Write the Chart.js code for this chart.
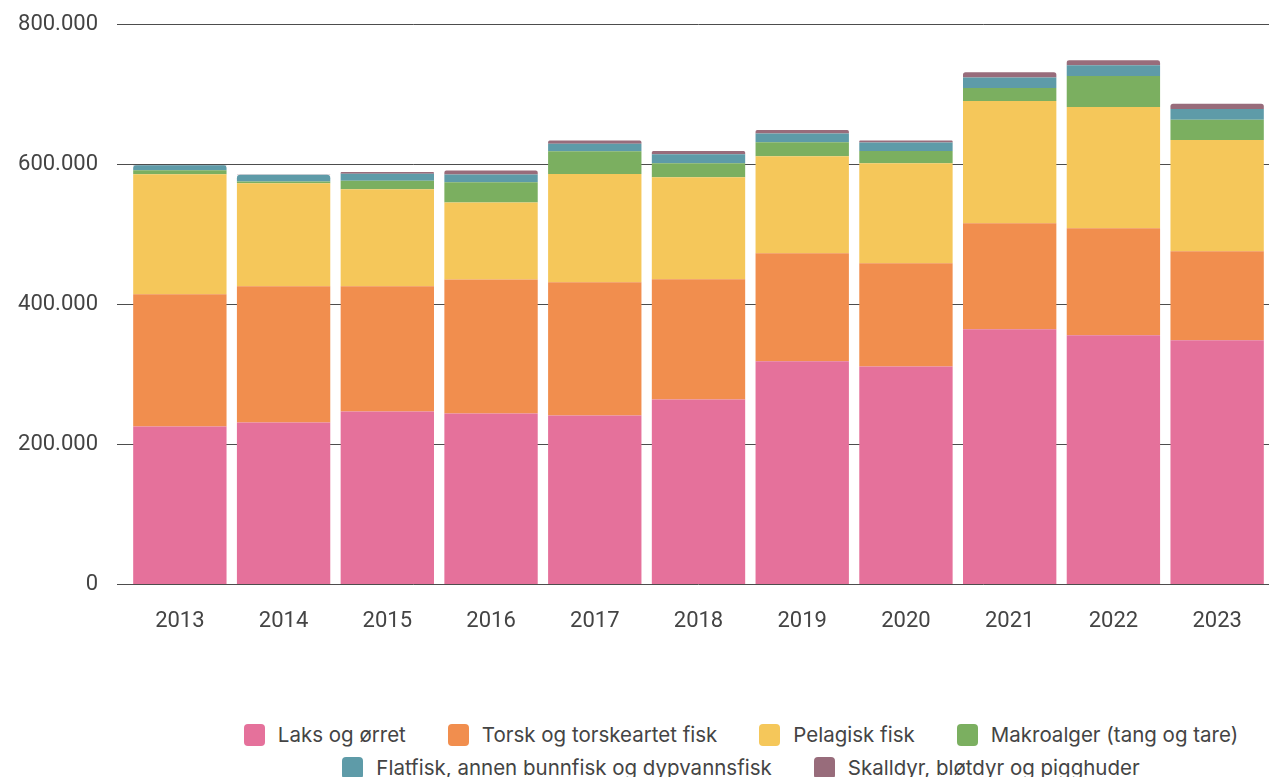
<!DOCTYPE html>
<html lang="no">
<head>
<meta charset="utf-8">
<title>Produksjon etter artsgruppe 2013–2023</title>
<script src="https://cdn.jsdelivr.net/npm/chart.js@4/dist/chart.umd.min.js"></script>
<style>
  html, body { margin: 0; padding: 0; background: #fff; }
  body { width: 1269px; height: 777px; position: relative; overflow: hidden; font-family: Inter, "Noto Sans", sans-serif; }
  #wrap { position: absolute; left: 0; top: 0; width: 1269px; height: 665px; }
  #legend {
    position: absolute; left: 213px; top: 724px; width: 1056px;
    display: flex; flex-wrap: wrap; justify-content: center;
    column-gap: 42px; row-gap: 11px;
    font-size: 20.5px; color: #444; line-height: 22px;
  }
  .item { display: inline-flex; align-items: center; height: 22px; white-space: nowrap; }
  .swatch { width: 21px; height: 22px; border-radius: 4px; margin-right: 13px; flex: none; }
</style>
</head>
<body>
<div id="wrap"><canvas id="chart" width="1269" height="665"></canvas></div>
<div id="legend"></div>
<script>
// Years on the x axis
const years = ['2013', '2014', '2015', '2016', '2017', '2018', '2019', '2020', '2021', '2022', '2023'];

// Tonnes per species group
const laksOgOrret   = [225700, 231400, 247000, 244000, 241400, 264300, 318600, 311400, 364300, 355700, 348600];
const torsk         = [188600, 194300, 178600, 191400, 190000, 171400, 154300, 147200, 151400, 152900, 127100];
const pelagisk      = [171400, 147000, 138600, 110000, 154700, 145700, 138500, 142800, 174300, 172800, 158600];
const makroalger    = [  5700,   2500,  12000,  28600,  32400,  20000,  20000,  17200,  18600,  44300,  29000];
const flatfisk      = [  7000,   9500,  10000,  11400,  10500,  12900,  12500,  12400,  15200,  15300,  15300];
const skalldyr      = [   500,    400,   2500,   5700,   4800,   4300,   4700,   2800,   7200,   7100,   7500];

// Series names and colours
const seriesNames = [
  'Laks og ørret',
  'Torsk og torskeartet fisk',
  'Pelagisk fisk',
  'Makroalger (tang og tare)',
  'Flatfisk, annen bunnfisk og dypvannsfisk',
  'Skalldyr, bløtdyr og pigghuder'
];
const seriesColors = ['#E5719B', '#F18E4E', '#F5C75A', '#7BAF60', '#5E9BA8', '#986C7B'];
const seriesValues = [laksOgOrret, torsk, pelagisk, makroalger, flatfisk, skalldyr];

// Y axis ticks
const yTicks = [0, 200000, 400000, 600000, 800000];

function formatNo(v) {
  return String(v).replace(/\B(?=(\d{3})+(?!\d))/g, '.');
}

// Index of the visible top segment of each stack (gets the rounded corners)
function topIndex(col) {
  let top = 0;
  seriesValues.forEach((vals, i) => { if (vals[col] >= 1500) top = i; });
  return top;
}

const datasets = seriesValues.map((vals, i) => ({
  label: seriesNames[i],
  data: vals,
  backgroundColor: seriesColors[i],
  borderWidth: 0,
  borderSkipped: false,
  borderRadius: (ctx) => (ctx.dataIndex !== undefined && topIndex(ctx.dataIndex) === ctx.datasetIndex)
    ? { topLeft: 5, topRight: 5, bottomLeft: 0, bottomRight: 0 }
    : 0,
  categoryPercentage: 1.0,
  barPercentage: 0.9
}));

const tickFont = { family: 'Roboto, Inter, sans-serif', size: 22 };

new Chart(document.getElementById('chart'), {
  type: 'bar',
  data: { labels: years, datasets },
  options: {
    responsive: false,
    animation: false,
    layout: { padding: { left: 0, top: 0, right: 0, bottom: 6 } },
    plugins: {
      legend: { display: false },
      tooltip: { enabled: false }
    },
    scales: {
      x: {
        stacked: true,
        grid: { display: false, drawTicks: false },
        border: { display: false },
        ticks: { padding: 24, font: tickFont, color: '#444' }
      },
      y: {
        stacked: true,
        min: 0,
        max: 800000,
        afterBuildTicks: (axis) => { axis.ticks = yTicks.map(v => ({ value: v })); },
        afterFit: (axis) => { axis.width = 128; axis.paddingTop = 24; axis.paddingBottom = 0; },
        grid: { color: '#4d4d4d', lineWidth: 1, drawTicks: true, tickLength: 11 },
        border: { display: false },
        ticks: { padding: 19, font: tickFont, color: '#444', callback: (v) => formatNo(v) }
      }
    }
  }
});

// Legend built from the same series names and colours
const legend = document.getElementById('legend');
seriesNames.forEach((name, i) => {
  const item = document.createElement('span');
  item.className = 'item';
  const sw = document.createElement('span');
  sw.className = 'swatch';
  sw.style.background = seriesColors[i];
  item.appendChild(sw);
  item.appendChild(document.createTextNode(name));
  legend.appendChild(item);
});
</script>
</body>
</html>
